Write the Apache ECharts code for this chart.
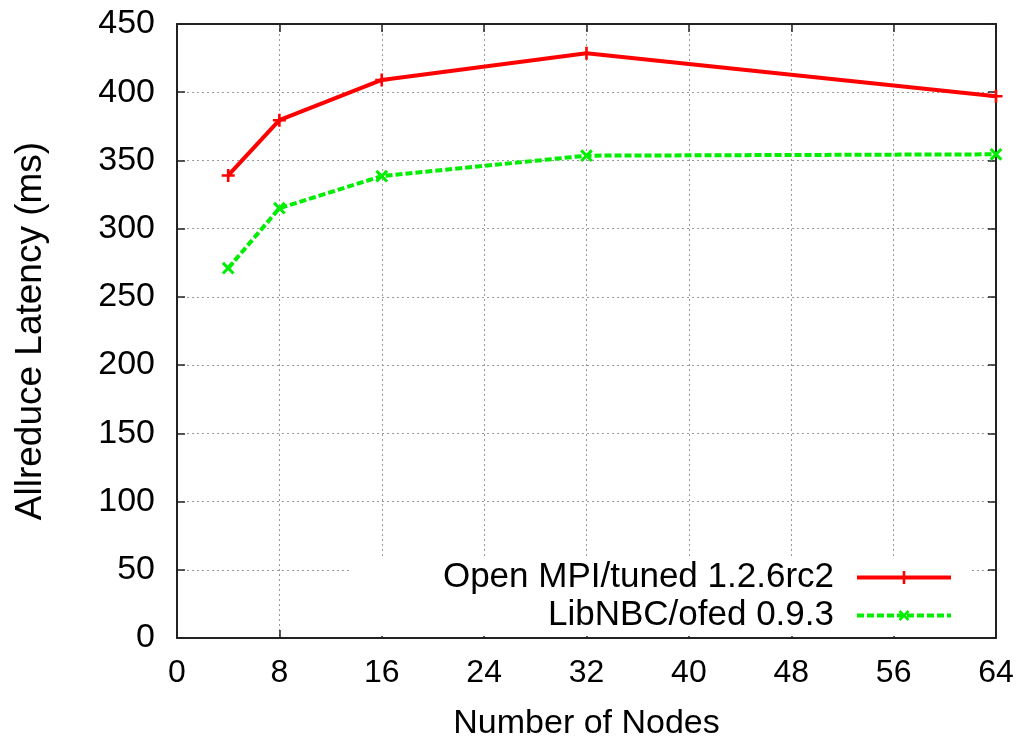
<!DOCTYPE html>
<html>
<head>
<meta charset="utf-8">
<script src="https://cdn.jsdelivr.net/npm/echarts@6/dist/echarts.min.js"></script>
<style>
  html, body { margin: 0; padding: 0; background: #fff; }
  #chart-container { width: 1023px; height: 746px; }
</style>
</head>
<body>
<div id="chart-container"></div>
<script>
var dom = document.getElementById('chart-container');
var myChart = echarts.init(dom, null, { renderer: 'canvas' });

// data
const nodes = [4, 8, 16, 32, 64];
const openMpi = [339, 379.5, 409, 428.5, 397];
const libNbc = [271, 315, 338.5, 353.5, 354.5];
const seriesNames = ['Open MPI/tuned 1.2.6rc2', 'LibNBC/ofed 0.9.3'];

const font = 'Liberation Sans, Arial, Helvetica, sans-serif';
const plusPath = 'path://M0.4,0H0.6V0.4H1V0.6H0.6V1H0.4V0.6H0V0.4H0.4Z';

function pairs(xs, ys) {
    return xs.map(function (x, i) { return [x, ys[i]]; });
}

var axisLine = { show: true, onZero: false, lineStyle: { color: '#222', width: 2 } };
var gridLine = { show: true, lineStyle: { color: '#999', type: [2, 3], width: 1 } };
var tick = { inside: true, length: 8, lineStyle: { color: '#222', width: 1.5 } };

var option = {
    animation: false,
    backgroundColor: '#fff',
    grid: { left: 177, top: 24, right: 27, bottom: 108 },
    legend: {
        orient: 'vertical',
        align: 'right',
        right: 51,
        top: 557,
        padding: [3, 19, 3, 92],
        backgroundColor: '#fff',
        itemWidth: 94,
        itemHeight: 16,
        itemGap: 3,
        textStyle: { fontFamily: font, fontSize: 35, color: '#000', lineHeight: 34, padding: [0, 18, 0, 0] },
        data: [
            { name: seriesNames[0], lineStyle: { width: 4 } },
            { name: seriesNames[1], lineStyle: { width: 4 } }
        ]
    },
    xAxis: [
        {
            type: 'value', min: 0, max: 64, interval: 8,
            name: 'Number of Nodes', nameLocation: 'middle', nameGap: 69,
            nameTextStyle: { fontFamily: font, fontSize: 34, color: '#000' },
            axisLine: axisLine,
            axisTick: tick,
            axisLabel: { fontFamily: font, fontSize: 32, color: '#000', margin: 19 },
            splitLine: gridLine
        },
        {
            type: 'value', min: 0, max: 64, interval: 8, position: 'top',
            axisLine: axisLine,
            axisTick: tick,
            axisLabel: { show: false },
            splitLine: { show: false }
        }
    ],
    yAxis: [
        {
            type: 'value', min: 0, max: 450, interval: 50,
            name: 'Allreduce Latency (ms)', nameLocation: 'middle', nameGap: 128,
            nameTextStyle: { fontFamily: font, fontSize: 37, color: '#000' },
            axisLine: axisLine,
            axisTick: tick,
            axisLabel: { fontFamily: font, fontSize: 34, color: '#000', margin: 22 },
            splitLine: gridLine
        },
        {
            type: 'value', min: 0, max: 450, interval: 50, position: 'right',
            axisLine: axisLine,
            axisTick: tick,
            axisLabel: { show: false },
            splitLine: { show: false }
        }
    ],
    series: [
        {
            name: seriesNames[0],
            type: 'line',
            data: pairs(nodes, openMpi),
            symbol: plusPath,
            symbolSize: 13,
            showAllSymbol: true,
            lineStyle: { color: '#ff0000', width: 4 },
            itemStyle: { color: '#ff0000' },
            z: 3
        },
        {
            name: seriesNames[1],
            type: 'line',
            data: pairs(nodes, libNbc),
            symbol: plusPath,
            symbolRotate: 45,
            symbolSize: 15,
            showAllSymbol: true,
            lineStyle: { color: '#00ee00', width: 4, type: [7, 3] },
            itemStyle: { color: '#00ee00' },
            z: 2
        }
    ]
};

myChart.setOption(option);
window.addEventListener('resize', myChart.resize);
</script>
</body>
</html>
